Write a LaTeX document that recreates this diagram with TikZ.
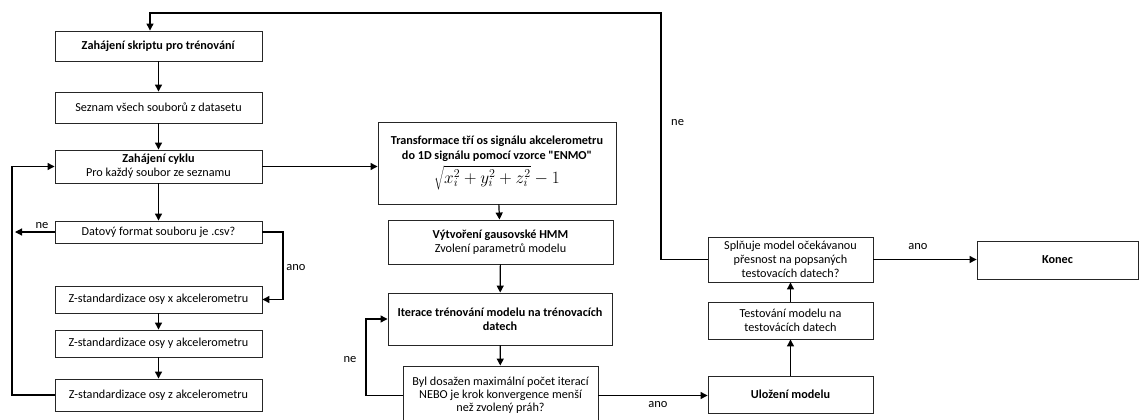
\documentclass[tikz,border=0pt]{standalone}
\usepackage{fontspec}
\setmainfont{Carlito}[Ligatures=TeXOff]
\usetikzlibrary{arrows.meta}
\begin{document}
\begin{tikzpicture}[x=1pt,y=-1pt,
  box/.style={draw=black!85, line width=0.9pt, rectangle, inner sep=0pt, align=center,
    font=\fontsize{12.2}{14.3}\selectfont},
  arr/.style={draw=black, line width=1.2pt, -{Triangle[length=7pt,width=7pt]}},
  lbl/.style={inner sep=0pt, font=\fontsize{12.5}{14.5}\selectfont}]
\useasboundingbox (0,0) rectangle (1140,420);
\clip (0,0) rectangle (1140,420);
\fill[white] (0,0) rectangle (1140,420);
% left column
\node[box, minimum width=207pt, minimum height=30pt] (b1) at (158.5,46) {\textbf{Zahájení skriptu pro trénování}};
\node[box, minimum width=207pt, minimum height=31pt] (b2) at (158.5,107.5) {Seznam všech souborů z datasetu};
\node[box, minimum width=207pt, minimum height=33pt] (b3) at (158.5,166.5) {\textbf{Zahájení cyklu}\\Pro každý soubor ze seznamu};
\node[box, minimum width=207pt, minimum height=22pt] (b4) at (158.5,232) {Datový format souboru je .csv?};
\node[box, minimum width=207pt, minimum height=27pt] (b5) at (158.5,299.5) {Z-standardizace osy x akcelerometru};
\node[box, minimum width=207pt, minimum height=27pt] (b6) at (158.5,343.5) {Z-standardizace osy y akcelerometru};
\node[box, minimum width=207pt, minimum height=32pt] (b7) at (158.5,395) {Z-standardizace osy z akcelerometru};
% middle column
\node[box, minimum width=238pt, minimum height=82pt] (m1) at (497,163) {\textbf{Transformace tří os signálu akcelerometru}\\\textbf{do 1D signálu pomocí vzorce "ENMO"}\\[3pt]{\fontsize{17}{18}\selectfont$\sqrt{x_i^2+y_i^2+z_i^2}-1$}};
\node[box, minimum width=225pt, minimum height=44pt] (m2) at (500.5,242) {\textbf{Výtvoření gausovské HMM}\\Zvolení parametrů modelu};
\node[box, minimum width=224pt, minimum height=52pt] (m3) at (500,319) {\textbf{Iterace trénování modelu na trénovacích}\\\textbf{datech}};
\node[box, minimum width=195pt, minimum height=59pt, font=\fontsize{12.2}{13}\selectfont] (m4) at (500.5,395.5) {Byl dosažen maximální počet iterací\\NEBO je krok konvergence menší\\než zvolený práh?};
% right column
\node[box, minimum width=165pt, minimum height=37pt] (r1) at (790.5,394.5) {\textbf{Uložení modelu}};
\node[box, minimum width=165pt, minimum height=37pt] (r2) at (790.5,320.5) {Testování modelu na\\testovácích datech};
\node[box, minimum width=165pt, minimum height=45pt] (r3) at (790.5,259.5) {Splňuje model očekávanou\\přesnost na popsaných\\testovacích datech?};
\node[box, minimum width=161pt, minimum height=38pt] (kon) at (1057.5,260) {\textbf{Konec}};
% helper coordinates
\coordinate (neL) at (15,232);
\coordinate (anoR) at (283,232);
\coordinate (lpL) at (12,0);
\coordinate (lpM) at (366,0);
\coordinate (tpR) at (661,13);
\coordinate (tpL) at (150,13);
% connectors
\draw[arr] (b1) -- (b2);
\draw[arr] (b2) -- (b3);
\draw[arr] (b3) -- (b4);
\draw[arr] (b5) -- (b6);
\draw[arr] (b6) -- (b7);
\draw[arr] (b4.west) -- (neL);
\draw[arr] (b4.east) -- (anoR) -- (anoR |- b5.east) -- (b5.east);
\draw[arr] (b7.west) -- (b7.west -| lpL) -- (lpL |- b3.west) -- (b3.west);
\draw[arr] (b3.east) -- (b3.east -| m1.west);
\draw[arr] (m1) -- (m2);
\draw[arr] (m2) -- (m3);
\draw[arr] (m3) -- (m4);
\draw[arr] (m4.west) -- (m4.west -| lpM) -- (lpM |- m3.west) -- (m3.west);
\draw[arr] (m4.east) -- (m4.east -| r1.west);
\draw[arr] (r1) -- (r2);
\draw[arr] (r2) -- (r3);
\draw[arr] (r3.east) -- (r3.east -| kon.west);
\draw[arr] (r3.west) -- (r3.west -| tpR) -- (tpR) -- (tpL) -- (tpL |- b1.north);
% labels
\node[lbl] (l1) at (42,226) {ne};
\node[lbl] (l2) at (296,268) {ano};
\node[lbl] (l3) at (350,360) {ne};
\node[lbl] (l4) at (658,405) {ano};
\node[lbl] (l5) at (918,247) {ano};
\node[lbl, anchor=west] (l6) at (671,123) {ne};
\end{tikzpicture}
\end{document}
